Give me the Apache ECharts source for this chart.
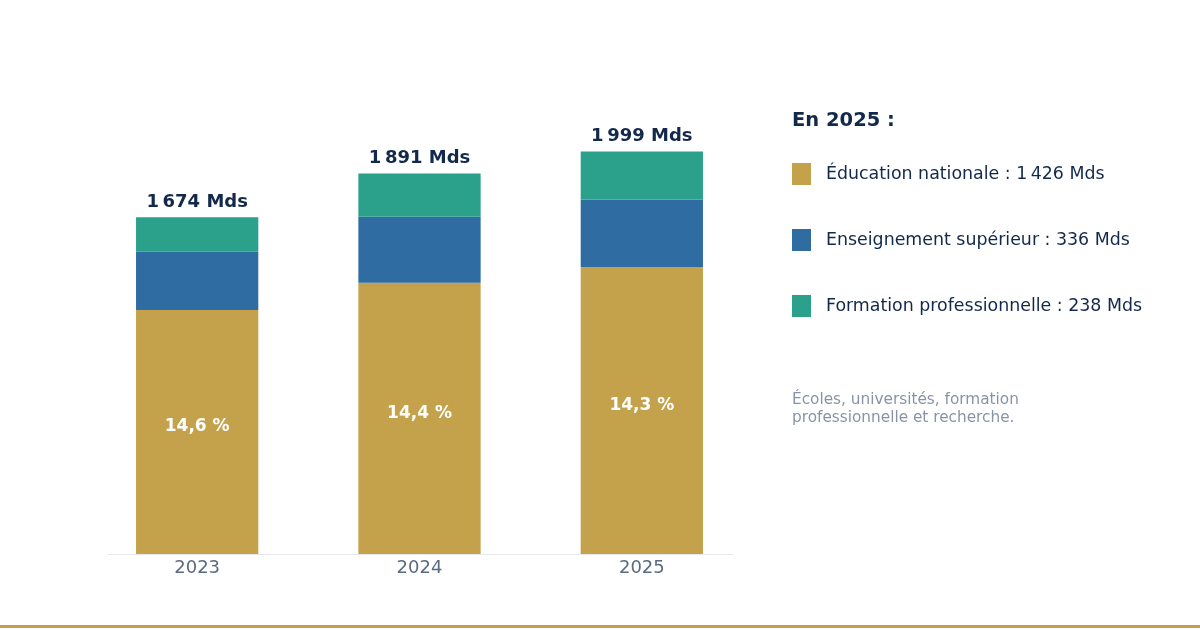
<!DOCTYPE html>
<html lang="fr">
<head>
    <meta charset="UTF-8">
    <title>Dépenses d'éducation</title>
    <script type="text/javascript" src="https://cdn.jsdelivr.net/npm/echarts@6/dist/echarts.min.js"></script>
    <style>
        *{
            margin:0;
            padding:0;
        }
        #main {
            width:1200px;
            height:630px;
            background:#fff;
        }
    </style>
</head>
<body>
<div id="main"></div>
<script type="text/javascript">
    // données (milliards)
    var years = ['2023', '2024', '2025'];
    var education = [1213, 1348, 1426];
    var superieur = [289, 328, 336];
    var formation = [172, 215, 238];
    var totals = ['1\u202f674', '1\u202f891', '1\u202f999'];
    var shares = ['14,6 %', '14,4 %', '14,3 %'];
    var names = ['Éducation nationale', 'Enseignement supérieur', 'Formation professionnelle'];
    var legendValues = ['1\u202f426', '336', '238'];

    var colors = ['#c4a14b', '#2e6ca2', '#2ba18b'];
    var font = 'DejaVu Sans';

    var myChart = echarts.init(document.getElementById('main'));

    var option = {
        color: colors,
        animation: false,
        textStyle: { fontFamily: font },
        title: {
            text: 'En 2025 :',
            left: 787,
            top: 106,
            textStyle: { fontFamily: font, fontSize: 19.5, fontWeight: 'bold', color: '#13294b' }
        },
        legend: {
            orient: 'vertical',
            left: 787,
            top: 158,
            itemWidth: 19,
            itemHeight: 22,
            itemGap: 44,
            icon: 'rect',
            data: names,
            textStyle: { fontFamily: font, fontSize: 17.4, color: '#13294b', padding: [0, 0, 0, 10] },
            formatter: function (name) {
                return name + ' : ' + legendValues[names.indexOf(name)] + ' Mds';
            }
        },
        grid: {
            left: 86,
            width: 667,
            top: 51,
            bottom: 76
        },
        xAxis: {
            type: 'category',
            data: years,
            axisLine: { show: false },
            axisTick: { show: false },
            axisLabel: { fontFamily: font, fontSize: 18, color: '#5b6a80', margin: 5 }
        },
        yAxis: {
            type: 'value',
            min: 0,
            max: 2500,
            show: false,
            splitLine: { show: false }
        },
        series: [
            {
                name: names[0],
                type: 'bar',
                stack: 'total',
                barWidth: '55%',
                data: education,
                label: {
                    show: true,
                    position: 'inside',
                    offset: [0, -5],
                    color: '#fff',
                    fontFamily: font,
                    fontSize: 17,
                    fontWeight: 'bold',
                    formatter: function (p) { return shares[p.dataIndex]; }
                }
            },
            {
                name: names[1],
                type: 'bar',
                stack: 'total',
                data: superieur
            },
            {
                name: names[2],
                type: 'bar',
                stack: 'total',
                data: formation,
                label: {
                    show: true,
                    position: 'top',
                    distance: 6,
                    color: '#13294b',
                    fontFamily: font,
                    fontSize: 18,
                    fontWeight: 'bold',
                    formatter: function (p) { return totals[p.dataIndex] + ' Mds'; }
                }
            }
        ],
        graphic: [
            {
                type: 'line',
                shape: { x1: 108, y1: 554.5, x2: 733, y2: 554.5 },
                style: { stroke: '#e6e8ee', lineWidth: 1 },
                z: 0
            },
            {
                type: 'text',
                left: 792,
                top: 391,
                style: {
                    text: 'Écoles, universités, formation\nprofessionnelle et recherche.',
                    fill: '#8a93a6',
                    font: '15.3px "DejaVu Sans"',
                    lineHeight: 18
                }
            },
            {
                type: 'rect',
                shape: { x: 0, y: 625, width: 1200, height: 3 },
                style: { fill: '#c4a14b' }
            }
        ]
    };

    myChart.setOption(option);
</script>
</body>
</html>
